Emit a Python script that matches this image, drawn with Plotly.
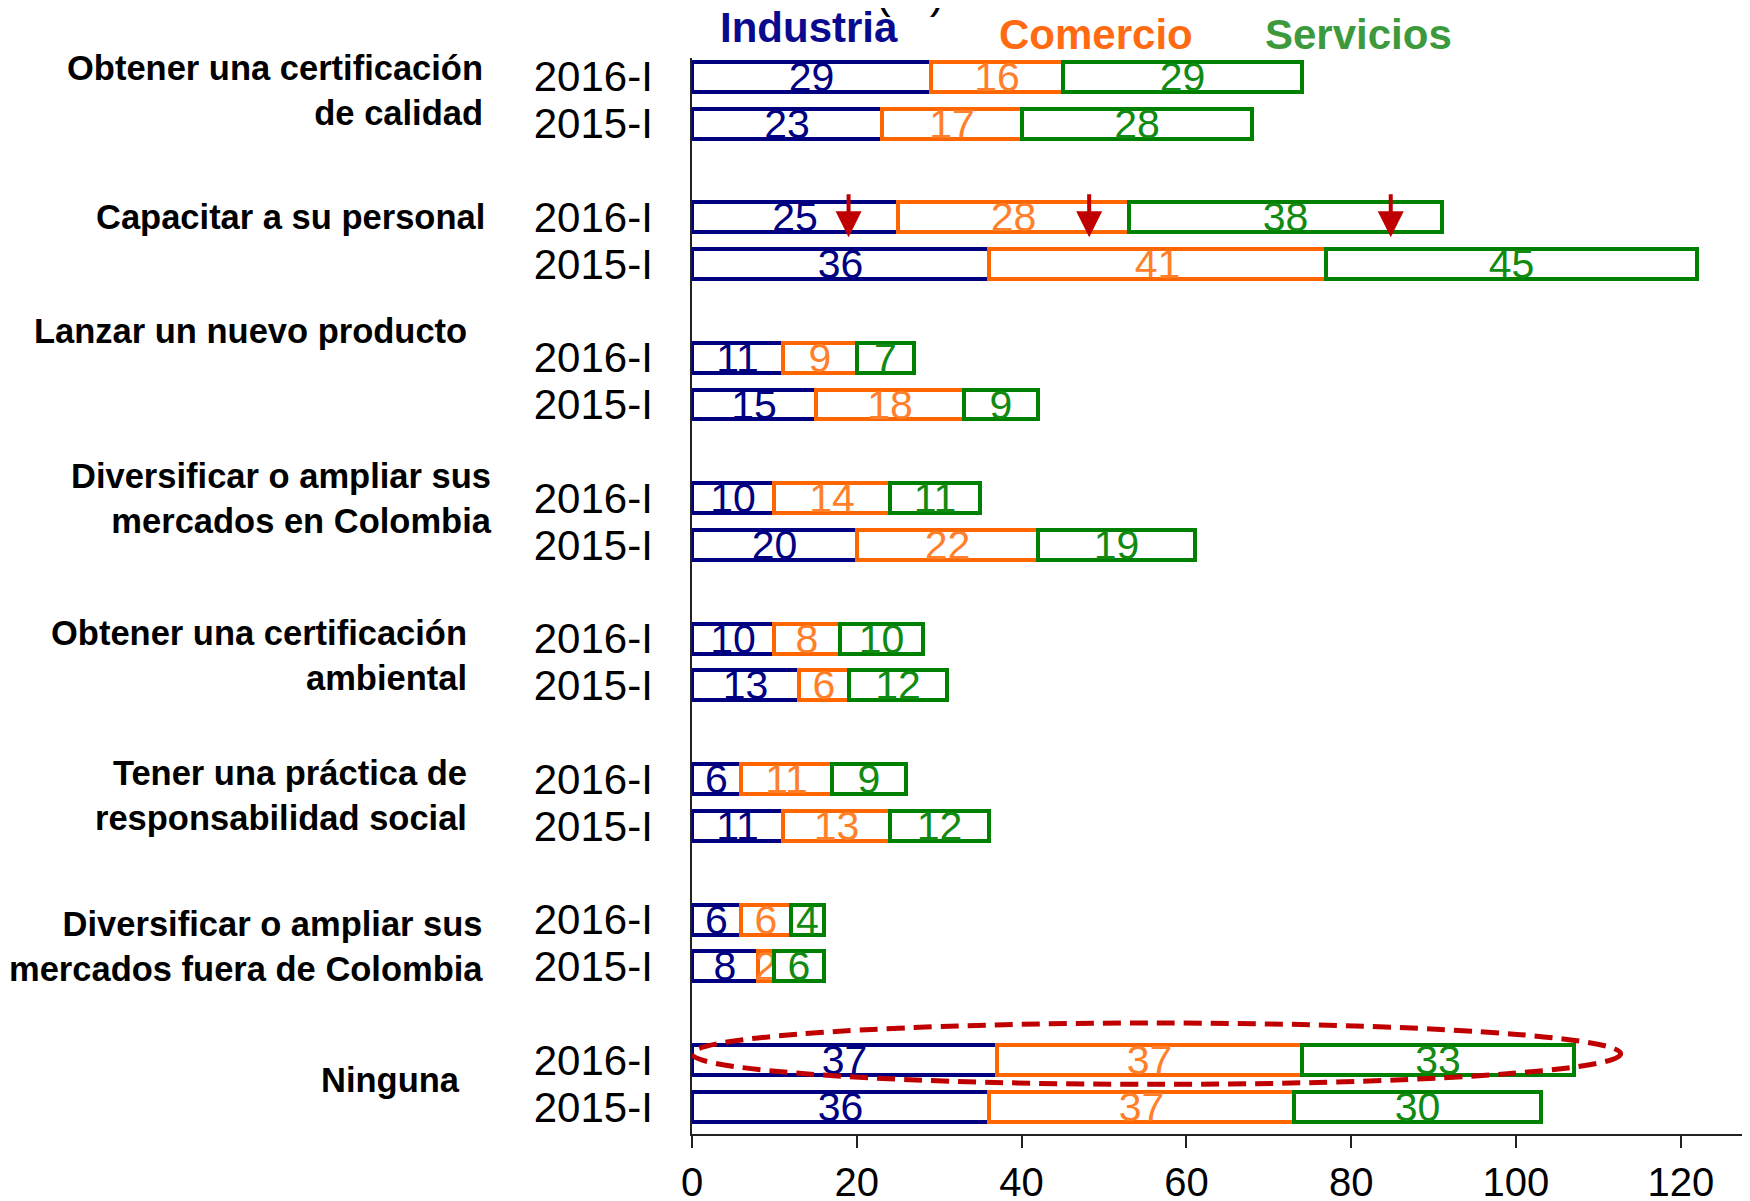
import plotly.graph_objects as go

# ---------------- data ----------------
categories = [
    "Obtener una certificación<br>de calidad",
    "Capacitar a su personal",
    "Lanzar un nuevo producto",
    "Diversificar o ampliar sus<br>mercados en Colombia",
    "Obtener una certificación<br>ambiental",
    "Tener una práctica de<br>responsabilidad social",
    "Diversificar o ampliar sus<br>mercados fuera de Colombia",
    "Ninguna",
]
periods = ["2016-I", "2015-I"]
series_names = ["Industria", "Comercio", "Servicios"]

industria_2016 = [29, 25, 11, 10, 10, 6, 6, 37]
industria_2015 = [23, 36, 15, 20, 13, 11, 8, 36]
comercio_2016 = [16, 28, 9, 14, 8, 11, 6, 37]
comercio_2015 = [17, 41, 18, 22, 6, 13, 2, 37]
servicios_2016 = [29, 38, 7, 11, 10, 9, 4, 33]
servicios_2015 = [28, 45, 9, 19, 12, 12, 6, 30]

x_ticks = [0, 20, 40, 60, 80, 100, 120]

# ---------------- styling ----------------
line_colors = ["#000080", "#FF6600", "#008000"]
text_colors = ["#000080", "#FF7F2A", "#108A10"]
legend_colors = ["#0A0A90", "#FF6A13", "#3C9A3C"]
legend_pos = [(0.1106, 1.0288), (0.3819, 1.0223), (0.6295, 1.0223)]
label_dy = [-0.21, -0.5, -1.07, -0.49, -0.14, -0.15, 0.08, -0.07]
label_xshift = [-207, -205, -223, -198, -223, -223, -207, -230]
arrow_x = [19, 48.2, 84.8]
FONT = "Arial, Liberation Sans, Helvetica, sans-serif"

# slot positions: each group has 2016, 2015 and an empty slot
n = len(categories)
y_pos = []
y_text = []
for g in range(n):
    y_pos += [3 * g, 3 * g + 1]
    y_text += periods

def interleave(a, b):
    out = []
    for u, v in zip(a, b):
        out += [u, v]
    return out

series_vals = [
    interleave(industria_2016, industria_2015),
    interleave(comercio_2016, comercio_2015),
    interleave(servicios_2016, servicios_2015),
]

fig = go.Figure()
for name, vals, lc, tc in zip(series_names, series_vals, line_colors, text_colors):
    fig.add_trace(go.Bar(
        name=name,
        orientation="h",
        x=vals,
        y=y_pos,
        width=0.64,
        marker=dict(color="white", line=dict(color=lc, width=4)),
        text=[str(v) for v in vals],
        textposition="inside",
        insidetextanchor="middle",
        textangle=0,
        constraintext="none",
        textfont=dict(family=FONT, size=41, color=tc),
        cliponaxis=False,
        showlegend=False,
    ))

annotations = []
# category labels
for g, cat in enumerate(categories):
    annotations.append(dict(
        x=0, xref="x", y=3 * g + 0.5 + label_dy[g], yref="y",
        text="<b>" + cat + "</b>", showarrow=False,
        xanchor="right", yanchor="middle", align="right",
        xshift=label_xshift[g],
        font=dict(family=FONT, size=34.5, color="black"),
    ))
# legend-like series titles
for name, col, (px, py) in zip(series_names, legend_colors, legend_pos):
    annotations.append(dict(
        x=px, y=py, xref="paper", yref="paper", text="<b>" + name + "</b>",
        showarrow=False, xanchor="center", yanchor="middle",
        font=dict(family=FONT, size=42, color=col),
    ))
# partially visible unit title at very top (mostly cut off in the reference)
annotations.append(dict(
    x=(910 - 692) / 1058, y=1.061, xref="paper", yref="paper", text="(%)",
    showarrow=False, xanchor="center", yanchor="middle",
    font=dict(family=FONT, size=44, color="black"),
))
# red arrows on "Capacitar" 2016-I
for ax_ in arrow_x:
    annotations.append(dict(
        x=ax_, y=3.43, xref="x", yref="y",
        ax=ax_, ay=2.48, axref="x", ayref="y",
        showarrow=True, arrowhead=2, arrowsize=1.3, arrowwidth=4,
        arrowcolor="#C00000", text="",
    ))

# the page body adds an 8px offset; the figure is sized so the plot lands
# on the same window pixels as the reference
fig.update_layout(
    width=1742, height=1193,
    margin=dict(l=684, r=0, t=50, b=67),
    plot_bgcolor="white", paper_bgcolor="white",
    barmode="stack", bargap=0,
    showlegend=False,
    annotations=annotations,
    shapes=[dict(
        type="circle", xref="x", yref="y",
        x0=0, x1=112.7, y0=20.21, y1=21.52,
        line=dict(color="#C00000", width=5, dash="18px,9px"),
        fillcolor="rgba(0,0,0,0)",
    )],
    font=dict(family=FONT),
)
fig.update_xaxes(
    range=[0, 128.4], tickvals=x_ticks, ticktext=[str(t) for t in x_ticks],
    showline=True, linecolor="#222", linewidth=1.5,
    ticks="outside", ticklen=12, tickwidth=1.5, tickcolor="#222",
    showgrid=False, zeroline=False, automargin=False,
    tickfont=dict(family=FONT, size=40, color="black"),
)
fig.update_yaxes(
    range=[22.58, -0.4], tickvals=y_pos, ticktext=y_text,
    showline=True, linecolor="#222", linewidth=1.5,
    ticks="", ticklabelstandoff=29,
    showgrid=False, zeroline=False, automargin=False,
    tickfont=dict(family=FONT, size=42, color="black"),
)

fig.write_html("out.html")
